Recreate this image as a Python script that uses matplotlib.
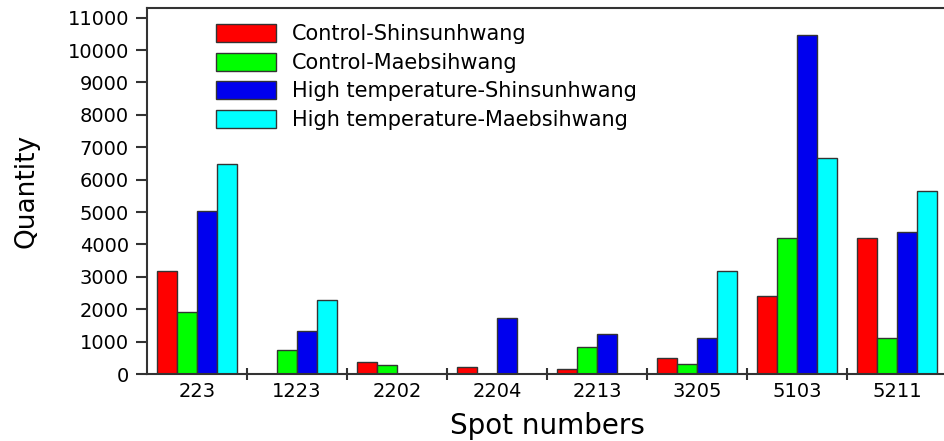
import numpy as np
import matplotlib.pyplot as plt
from matplotlib.ticker import FixedLocator, NullFormatter, FixedFormatter

plt.rcParams['font.family'] = ['DejaVu Sans']

spots = ["223", "1223", "2202", "2204", "2213", "3205", "5103", "5211"]
control_shin = [3180, 0, 360, 230, 150, 480, 2420, 4190]
control_maeb = [1910, 740, 270, 0, 840, 310, 4190, 1120]
high_shin = [5030, 1340, 0, 1720, 1250, 1120, 10460, 4370]
high_maeb = [6480, 2300, 0, 0, 0, 3180, 6660, 5660]

series = [
    ("Control-Shinsunhwang", control_shin, "#ff0000"),
    ("Control-Maebsihwang", control_maeb, "#00ff00"),
    ("High temperature-Shinsunhwang", high_shin, "#0000ee"),
    ("High temperature-Maebsihwang", high_maeb, "#00ffff"),
]

fig = plt.figure(figsize=(9.44, 4.41), dpi=100)
ax = fig.add_axes([147 / 944, 67 / 441, 800 / 944, 366 / 441])

x = np.arange(len(spots))
w = 0.2
for i, (name, vals, col) in enumerate(series):
    ax.bar(x + (i - 1.5) * w, vals, width=w, color=col, edgecolor="#333333",
           linewidth=1.0, label=name)

ax.set_xlim(-0.5, len(spots) - 0.5)
ax.set_ylim(0, 11300)
ax.set_yticks(np.arange(0, 11001, 1000))

# group separators as major ticks, spot labels on minor ticks at the centres
ax.xaxis.set_major_locator(FixedLocator(np.arange(0.5, len(spots) - 1, 1.0)))
ax.xaxis.set_major_formatter(NullFormatter())
ax.xaxis.set_minor_locator(FixedLocator(x))
ax.xaxis.set_minor_formatter(FixedFormatter(spots))
ax.tick_params(axis="x", which="major", direction="inout", length=8, width=1.5,
               color="#333333")
ax.tick_params(axis="x", which="minor", length=0, labelsize=14, pad=6)
ax.tick_params(axis="y", direction="out", length=8, width=1.5, color="#333333",
               labelsize=14, pad=5)

for side in ["left", "bottom", "top"]:
    ax.spines[side].set_linewidth(1.5)
    ax.spines[side].set_color("#333333")
ax.spines["right"].set_visible(False)

ax.set_xlabel("Spot numbers", fontsize=20, labelpad=8)
ax.yaxis.set_label_coords(-0.135, 0.52)
ax.set_ylabel("Quantity", fontsize=19)

ax.legend(loc="upper left", bbox_to_anchor=(69 / 800, 1 - 16 / 366),
          frameon=False, fontsize=15, handlelength=2.9, handleheight=0.96,
          handletextpad=0.75, labelspacing=0.4, borderpad=0, borderaxespad=0)

fig.savefig("out.png", dpi=100)
